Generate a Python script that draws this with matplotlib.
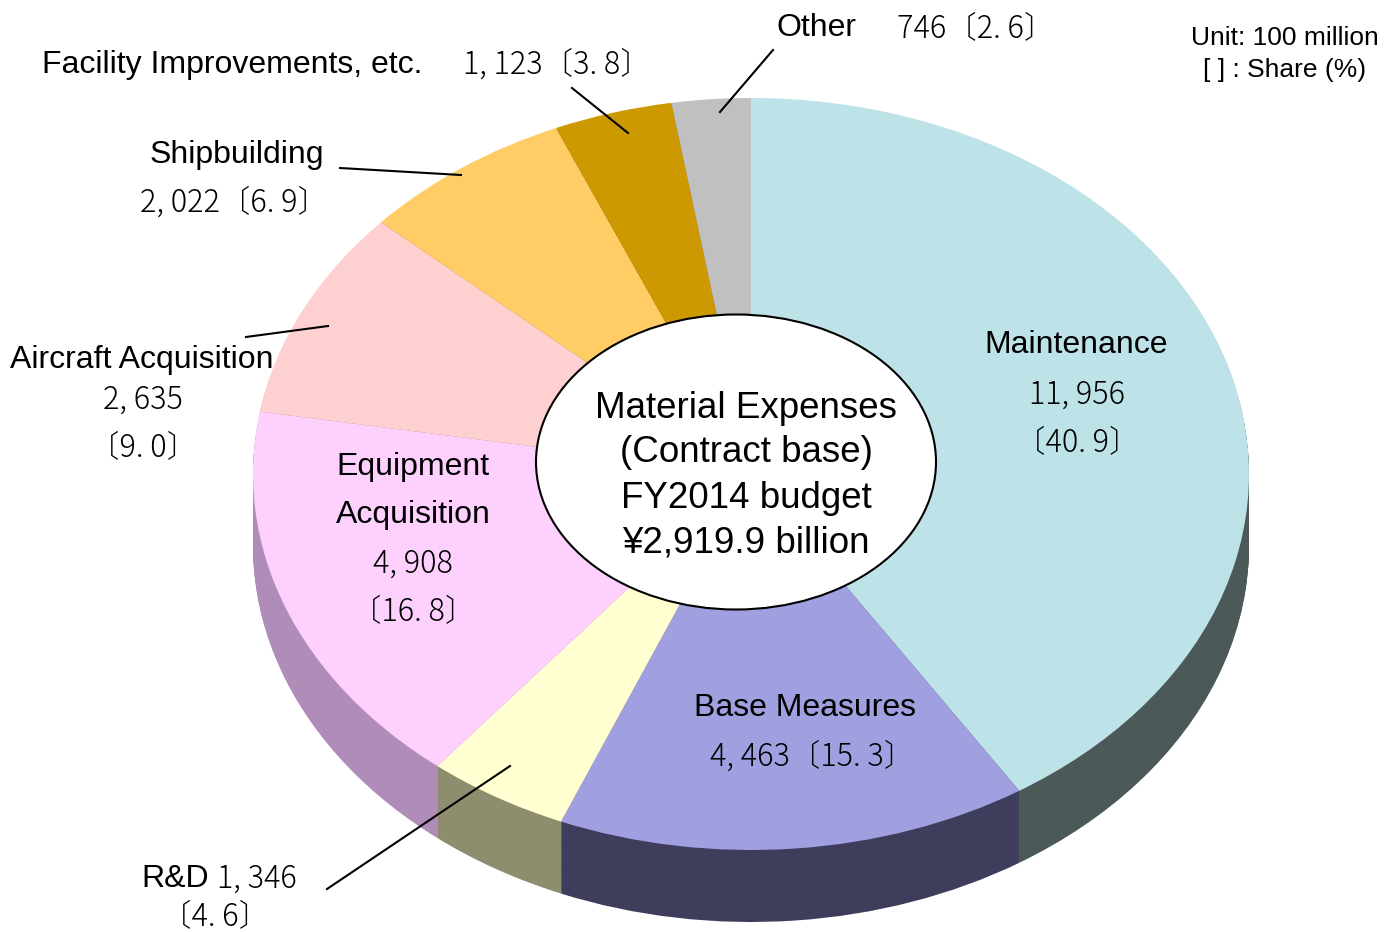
import matplotlib.pyplot as plt
from matplotlib.patches import Ellipse

# ===== DATA =====
categories = ["Maintenance", "Base Measures", "R&D", "Equipment Acquisition",
              "Aircraft Acquisition", "Shipbuilding", "Facility Improvements, etc.", "Other"]
values = [11956, 4463, 1346, 4908, 2635, 2022, 1123, 746]   # unit: 100 million yen
shares = [40.9, 15.3, 4.6, 16.8, 9.0, 6.9, 3.8, 2.6]         # %
top_colors = ["#bde2e7", "#a0a0e0", "#ffffd2", "#fdd0fd",
              "#ffd0d0", "#ffcc66", "#cc9900", "#c0c0c0"]
side_colors = ["#4b5959", "#3f3d5c", "#8e8e6e", "#b08cb8",
               "#a08080", "#a08040", "#806000", "#808080"]
center_lines = ["Material Expenses", "(Contract base)", "FY2014 budget", "¥2,919.9 billion"]

# ===== LAYOUT (pixels) =====
W, H = 1395, 932
CX, CY = 751, 474      # pie centre
RX, RY = 498, 376      # top face radii
DEPTH = 72             # thickness of the disc
EN = "Liberation Sans"
NUM = ["Noto Sans CJK JP", "DejaVu Sans"]


def num(i):
    return f"{values[i]:,}".replace(",", ", ")


def share(i):
    return f"〔{shares[i]:.1f}〕".replace(".", ". ")


fig = plt.figure(figsize=(W / 100, H / 100), dpi=100)
ax = fig.add_axes([0, 0, 1, 1])

# ===== 3D PIE: stacked side layers + top face =====
n_layers = 60
depth_u = DEPTH / RY
for k in range(n_layers):
    off = -depth_u + depth_u * k / n_layers
    ax.pie(values, colors=side_colors, startangle=90, counterclock=False,
           center=(0, off), radius=1, wedgeprops=dict(linewidth=0))
ax.pie(values, colors=top_colors, startangle=90, counterclock=False,
       center=(0, 0), radius=1, wedgeprops=dict(linewidth=0))

ax.set_aspect("auto")
ax.set_xlim(-CX / RX, (W - CX) / RX)
ax.set_ylim(-(H - CY) / RY, CY / RY)
ax.axis("off")

# white centre ellipse
ax.add_patch(Ellipse(((736 - CX) / RX, (CY - 462) / RY), 400 / RX, 295 / RY,
                     facecolor="white", edgecolor="black", linewidth=1.5, zorder=5))

# ===== LABELS (pixel overlay) =====
ov = fig.add_axes([0, 0, 1, 1])
ov.set_xlim(0, W)
ov.set_ylim(H, 0)
ov.axis("off")

fs_en, fs_num = 23, 22

def t(x, y, s, fam=EN, size=fs_en, ha="center"):
    w = "light" if fam == NUM else "normal"
    ov.text(x, y, s, family=fam, fontsize=size, fontweight=w,
            ha=ha, va="center", color="black")

# Maintenance
t(1076, 345, categories[0])
t(1077, 395, num(0), NUM, fs_num)
t(1077, 442, share(0), NUM, fs_num)
# Base Measures
t(805, 708, categories[1])
t(812, 757, num(1) + share(1), NUM, fs_num)
# R&D
t(141, 879, categories[2], ha="left")
t(217, 879, num(2), NUM, fs_num, ha="left")
t(215, 916, share(2), NUM, fs_num)
# Equipment Acquisition
t(413, 467, "Equipment")
t(413, 515, "Acquisition")
t(413, 564, num(3), NUM, fs_num)
t(413, 611, share(3), NUM, fs_num)
# Aircraft Acquisition
t(10, 360, categories[4], ha="left")
t(143, 400, num(4), NUM, fs_num)
t(143, 447, share(4), NUM, fs_num)
# Shipbuilding
t(150, 155, categories[5], ha="left")
t(140, 203, num(5) + share(5), NUM, fs_num, ha="left")
# Facility Improvements
t(42, 65, categories[6], ha="left")
t(463, 65, num(6) + share(6), NUM, fs_num, ha="left")
# Other
t(777, 28, categories[7], ha="left")
t(897, 28, num(7) + share(7), NUM, fs_num, ha="left")

# leader lines
leaders = [((773, 50), (720, 112)), ((572, 88), (628, 133)), ((340, 168), (461, 175)),
           ((246, 337), (328, 326)), ((327, 889), (510, 766))]
for (x0, y0), (x1, y1) in leaders:
    ov.plot([x0, x1], [y0, y1], color="black", linewidth=1.5)

# centre text
for i, line in enumerate(center_lines):
    t(746, 408 + 45 * i, line, size=26.5)

# unit note
t(1285, 38, "Unit: 100 million", size=19)
t(1285, 70, "[ ] : Share (%)", size=19)

fig.savefig("out.png", dpi=100)
